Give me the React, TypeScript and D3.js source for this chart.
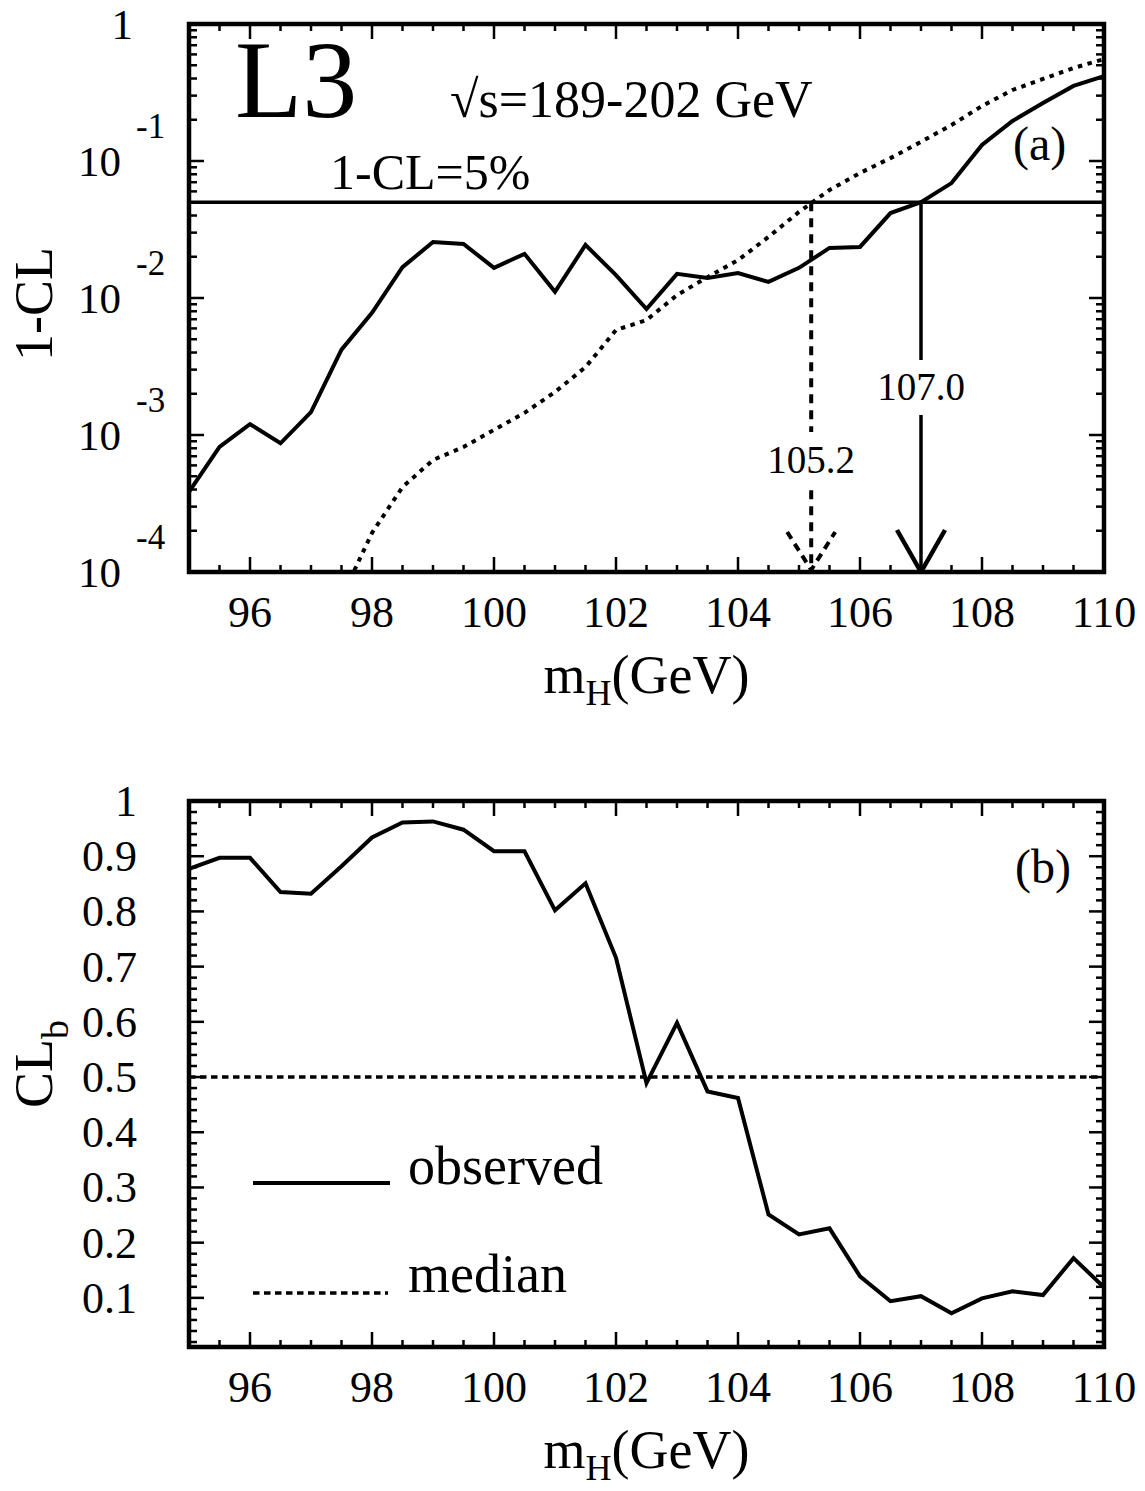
import React from 'react';
import * as d3 from 'd3';

// Higgs mass scan points (GeV)
const masses = [
  95, 95.5, 96, 96.5, 97, 97.5, 98, 98.5, 99, 99.5, 100, 100.5, 101, 101.5, 102, 102.5,
  103, 103.5, 104, 104.5, 105, 105.5, 106, 106.5, 107, 107.5, 108, 108.5, 109, 109.5, 110,
];

// (a) observed 1-CL
const observedOneMinusCL = [
  3.84e-4, 8.2e-4, 1.2e-3, 8.7e-4, 1.47e-3, 4.2e-3, 7.8e-3, 0.0168, 0.0256, 0.0248, 0.0166,
  0.021, 0.0111, 0.0244, 0.0147, 0.0083, 0.015, 0.014, 0.0152, 0.0131, 0.0166, 0.0232, 0.0236,
  0.0417, 0.05, 0.069, 0.131, 0.196, 0.265, 0.353, 0.417,
];

// (a) median expected 1-CL (below 1e-4 for the lowest masses)
const medianOneMinusCL: (number | null)[] = [
  null, null, null, null, null, 6.5e-5, 1.93e-4, 4.17e-4, 6.57e-4, 8.17e-4, 1.09e-3, 1.45e-3,
  2.06e-3, 3.13e-3, 5.84e-3, 6.9e-3, 0.0105, 0.0142, 0.0189, 0.0279, 0.0425, 0.0614, 0.0817,
  0.105, 0.138, 0.183, 0.252, 0.33, 0.397, 0.477, 0.555,
];

// (b) observed CL_b
const observedCLb = [
  0.877, 0.897, 0.897, 0.835, 0.832, 0.882, 0.934, 0.961, 0.963, 0.948, 0.909, 0.909, 0.802,
  0.851, 0.716, 0.489, 0.598, 0.474, 0.462, 0.251, 0.215, 0.226, 0.139, 0.094, 0.103, 0.072,
  0.099, 0.112, 0.105, 0.172, 0.119,
];

const clLevel = 0.05;
const medianCLb = 0.5;
const observedLimit = 107.0;
const expectedLimit = 105.2;

const FONT = '"Liberation Serif", "DejaVu Serif", serif';
const W = 1145;
const H = 1491;

const left = 189;
const right = 1104;
const top1 = { top: 24, bottom: 572 };
const top2 = { top: 801, bottom: 1347 };

export default function App() {
  const x = d3.scaleLinear().domain([95, 110]).range([left, right]);
  const yA = d3.scaleLog().domain([1e-4, 1]).range([top1.bottom, top1.top]);
  const yB = d3.scaleLinear().domain([0.011, 1]).range([top2.bottom, top2.top]);

  const xMajor = d3.range(96, 110.01, 2);
  const xMinor = d3.range(95, 110.01, 0.5).filter((v) => !xMajor.includes(v));

  const lineA = d3
    .line<number | null>()
    .defined((d) => d != null)
    .x((_, i) => x(masses[i]))
    .y((d) => yA(d as number));
  const lineB = d3
    .line<number>()
    .x((_, i) => x(masses[i]))
    .y((d) => yB(d));

  const decades = [1e-4, 1e-3, 1e-2, 1e-1, 1];
  const logMinor: number[] = [];
  decades.slice(0, 4).forEach((d) => {
    for (let k = 2; k <= 9; k++) logMinor.push(d * k);
  });

  const linMajor = d3.range(1, 11).map((v) => v / 10);
  const linMinor = d3
    .range(1, 50)
    .map((v) => v / 50)
    .filter((v) => Math.round(v * 50) % 5 !== 0 && v >= 0.011);

  const xTicks = (panel: { top: number; bottom: number }) => (
    <g stroke="#000" strokeWidth={2.5}>
      {xMajor.map((v) => (
        <g key={'M' + v}>
          <line x1={x(v)} x2={x(v)} y1={panel.bottom} y2={panel.bottom - 15} />
          <line x1={x(v)} x2={x(v)} y1={panel.top} y2={panel.top + 15} />
        </g>
      ))}
      {xMinor.map((v) => (
        <g key={'m' + v}>
          <line x1={x(v)} x2={x(v)} y1={panel.bottom} y2={panel.bottom - 7} />
          <line x1={x(v)} x2={x(v)} y1={panel.top} y2={panel.top + 7} />
        </g>
      ))}
    </g>
  );

  const xLabels = (panel: { top: number; bottom: number }) => (
    <g fontSize={44} textAnchor="middle">
      {xMajor.map((v) => (
        <text key={v} x={x(v)} y={panel.bottom + 55}>
          {v}
        </text>
      ))}
      <text x={(left + right) / 2} y={panel.bottom + 121} fontSize={54}>
        m<tspan fontSize={36} dy={12}>H</tspan>
        <tspan dy={-12}>(GeV)</tspan>
      </text>
    </g>
  );

  const yTicksB = (
    <g stroke="#000" strokeWidth={2.5}>
      {linMajor.map((v) => (
        <g key={'M' + v}>
          <line x1={left} x2={left + 15} y1={yB(v)} y2={yB(v)} />
          <line x1={right} x2={right - 15} y1={yB(v)} y2={yB(v)} />
        </g>
      ))}
      {linMinor.map((v) => (
        <g key={'m' + v}>
          <line x1={left} x2={left + 8} y1={yB(v)} y2={yB(v)} />
          <line x1={right} x2={right - 8} y1={yB(v)} y2={yB(v)} />
        </g>
      ))}
    </g>
  );

  const yTicksA = (
    <g stroke="#000" strokeWidth={2.5}>
      {decades.map((v) => (
        <g key={'M' + v}>
          <line x1={left} x2={left + 15} y1={yA(v)} y2={yA(v)} />
          <line x1={right} x2={right - 15} y1={yA(v)} y2={yA(v)} />
        </g>
      ))}
      {logMinor.map((v) => (
        <g key={'m' + v}>
          <line x1={left} x2={left + 8} y1={yA(v)} y2={yA(v)} />
          <line x1={right} x2={right - 8} y1={yA(v)} y2={yA(v)} />
        </g>
      ))}
    </g>
  );

  const xObs = x(observedLimit);
  const xExp = x(expectedLimit);
  const y5 = yA(clLevel);
  const yBase = yA(1e-4);

  return (
    <svg
      width={W}
      height={H}
      viewBox={`0 0 ${W} ${H}`}
      style={{ position: 'absolute', left: 0, top: 0, background: '#fff' }}
      fontFamily={FONT}
    >
      <defs>
        <clipPath id="clipA">
          <rect x={left} y={top1.top} width={right - left} height={top1.bottom - top1.top} />
        </clipPath>
        <clipPath id="clipB">
          <rect x={left} y={top2.top} width={right - left} height={top2.bottom - top2.top} />
        </clipPath>
      </defs>

      {/* ===== panel (a) ===== */}
      <g clipPath="url(#clipA)" fill="none" stroke="#000">
        <path d={lineA(observedOneMinusCL) || ''} strokeWidth={4} />
        <path d={lineA(medianOneMinusCL) || ''} strokeWidth={4} strokeDasharray="4.5,5.5" />
        <line x1={left} x2={right} y1={y5} y2={y5} strokeWidth={3.5} />
        {/* observed limit arrow */}
        <line x1={xObs} x2={xObs} y1={y5} y2={yBase} strokeWidth={3.5} />
        <polyline
          points={`${xObs - 24},${yBase - 42} ${xObs},${yBase} ${xObs + 24},${yBase - 42}`}
          strokeWidth={4.5}
        />
        {/* expected limit arrow */}
        <line x1={xExp} x2={xExp} y1={y5} y2={yBase} strokeWidth={4} strokeDasharray="9,7" />
        <polyline
          points={`${xExp - 24},${yBase - 40} ${xExp},${yBase - 2} ${xExp + 24},${yBase - 40}`}
          strokeWidth={4}
          strokeDasharray="8,6"
        />
      </g>
      <rect x={xObs - 46} y={360} width={92} height={55} fill="#fff" />
      <text x={xObs} y={400} fontSize={39} textAnchor="middle">
        107.0
      </text>
      <rect x={xExp - 46} y={432} width={92} height={56} fill="#fff" />
      <text x={xExp} y={473} fontSize={39} textAnchor="middle">
        105.2
      </text>

      {yTicksA}
      {xTicks(top1)}
      <rect
        x={left}
        y={top1.top}
        width={right - left}
        height={top1.bottom - top1.top}
        fill="none"
        stroke="#000"
        strokeWidth={4.5}
      />

      <text x={235} y={117} fontSize={110}>
        L3
      </text>
      <text x={450} y={117} fontSize={52}>
        √s=189-202 GeV
      </text>
      <text x={330} y={189} fontSize={50}>
        1-CL=5%
      </text>
      <text x={1013} y={160} fontSize={48}>
        (a)
      </text>

      {/* y labels (a) */}
      <g fontSize={43} textAnchor="end">
        <text x={133} y={yA(1) + 15}>
          1
        </text>
        {decades.slice(0, 4).map((v) => (
          <g key={v}>
            <text x={121} y={yA(v) + 15}>
              10
            </text>
            <text x={136} y={yA(v) - 23} fontSize={35} textAnchor="start">
              {'-' + Math.round(-Math.log10(v))}
            </text>
          </g>
        ))}
      </g>
      <text
        transform={`translate(52, ${(top1.top + top1.bottom) / 2 + 6}) rotate(-90)`}
        fontSize={54}
        textAnchor="middle"
      >
        1-CL
      </text>
      {xLabels(top1)}

      {/* ===== panel (b) ===== */}
      <g clipPath="url(#clipB)" fill="none" stroke="#000">
        <path d={lineB(observedCLb) || ''} strokeWidth={4} />
        <line
          x1={left}
          x2={right}
          y1={yB(medianCLb)}
          y2={yB(medianCLb)}
          strokeWidth={3.5}
          strokeDasharray="6.5,4.5"
        />
      </g>
      {yTicksB}
      {xTicks(top2)}
      <rect
        x={left}
        y={top2.top}
        width={right - left}
        height={top2.bottom - top2.top}
        fill="none"
        stroke="#000"
        strokeWidth={4.5}
      />
      <text x={1015} y={883} fontSize={48}>
        (b)
      </text>

      {/* legend */}
      <line x1={253} x2={390} y1={1183} y2={1183} stroke="#000" strokeWidth={4} />
      <text x={408} y={1184} fontSize={54}>
        observed
      </text>
      <line
        x1={253}
        x2={388}
        y1={1293}
        y2={1293}
        stroke="#000"
        strokeWidth={3.5}
        strokeDasharray="6.5,4.5"
      />
      <text x={408} y={1292} fontSize={54}>
        median
      </text>

      <g fontSize={44} textAnchor="end">
        {linMajor.map((v) => (
          <text key={v} x={137} y={yB(v) + 15}>
            {v === 1 ? '1' : v.toFixed(1)}
          </text>
        ))}
      </g>
      <text
        transform={`translate(52, ${(top2.top + top2.bottom) / 2 - 10}) rotate(-90)`}
        fontSize={54}
        textAnchor="middle"
      >
        CL<tspan fontSize={38} dy={16}>b</tspan>
      </text>
      {xLabels(top2)}
    </svg>
  );
}
